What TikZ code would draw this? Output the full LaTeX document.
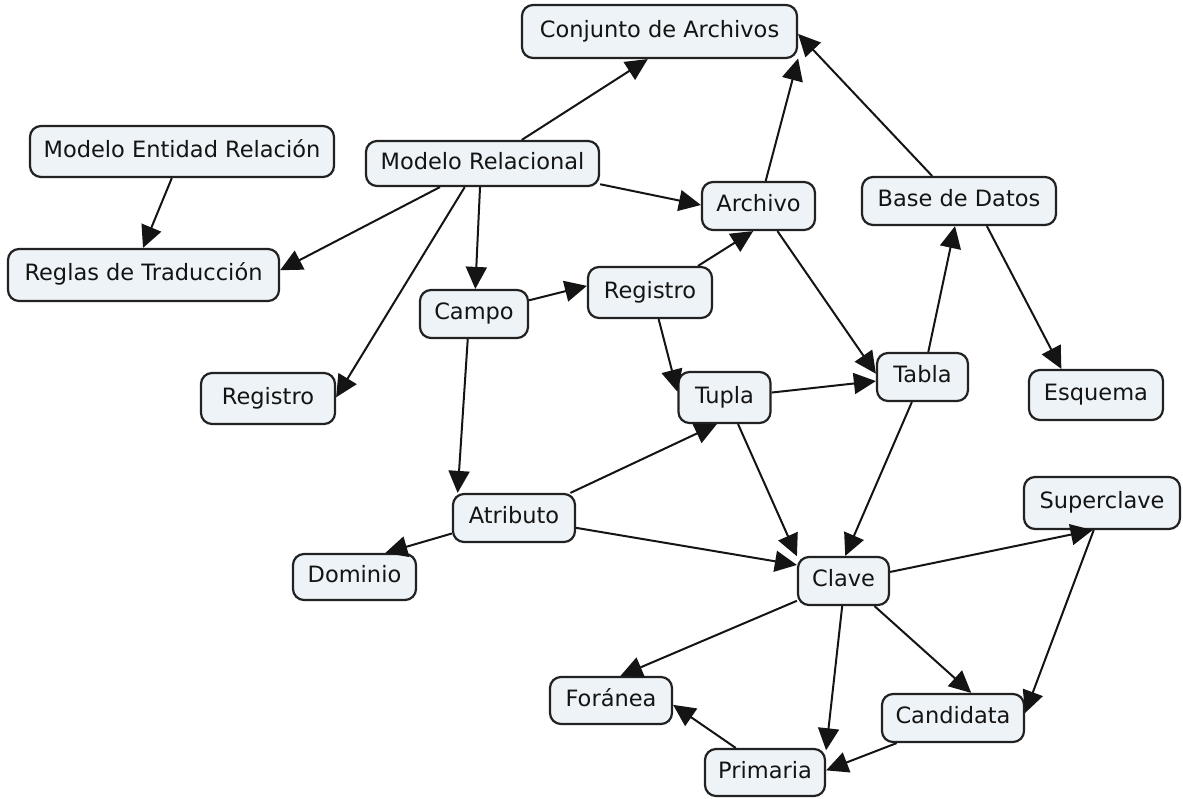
\documentclass[tikz,border=0pt]{standalone}
\usepackage{fontspec}
\setmainfont{DejaVu Sans}
\usetikzlibrary{arrows.meta}
\definecolor{boxfill}{RGB}{237,243,246}
\definecolor{boxline}{RGB}{34,34,34}
\tikzset{
  concept/.style={draw=boxline, line width=2.2pt, fill=boxfill, rounded corners=11pt,
    inner xsep=8pt, inner ysep=0pt, minimum height=48pt, text height=16pt, text depth=5pt,
    font=\fontsize{22.5}{26}\selectfont, text=black!92},
  link/.style={line width=2pt, draw=black!92, -{Triangle[length=22pt,width=21pt]}}
}
\begin{document}
\begin{tikzpicture}[x=1pt,y=-1pt]
\useasboundingbox (0,0) rectangle (1183,798);
\fill[white] (0,0) rectangle (1183,798);

% concepts
\node[concept, minimum width=275pt, minimum height=53pt] (CA)  at (659.5,31.5) {Conjunto de Archivos};
\node[concept, minimum width=304pt, minimum height=51pt] (MER) at (182,151.5)  {Modelo Entidad Relación};
\node[concept, minimum width=233pt, minimum height=45pt] (MR)  at (482.5,163.5) {Modelo Relacional};
\node[concept, minimum width=271pt, minimum height=52pt] (RT)  at (143.5,275)  {Reglas de Traducción};
\node[concept, minimum width=113pt] (AR)  at (758.5,206) {Archivo};
\node[concept, minimum width=194pt] (BD)  at (959,201)   {Base de Datos};
\node[concept, minimum width=108pt] (CP)  at (474,314)   {Campo};
\node[concept, minimum width=124pt, minimum height=51pt] (RM)  at (650,292.5) {Registro};
\node[concept, minimum width=134pt, minimum height=51pt] (RL)  at (268,398.5) {Registro};
\node[concept, minimum width=92pt, minimum height=51pt]  (TU)  at (724.5,397.5) {Tupla};
\node[concept, minimum width=91pt]  (TA)  at (922.5,377) {Tabla};
\node[concept, minimum width=134pt, minimum height=50pt] (ES)  at (1096,395)  {Esquema};
\node[concept, minimum width=122pt] (AT)  at (514,518)   {Atributo};
\node[concept, minimum width=156pt, minimum height=52pt] (SC)  at (1102,503)  {Superclave};
\node[concept, minimum width=123pt, minimum height=46pt] (DO)  at (354.5,577) {Dominio};
\node[concept, minimum width=91pt]  (CL)  at (843.5,581) {Clave};
\node[concept, minimum width=122pt, minimum height=47pt] (FO)  at (611,700.5) {Foránea};
\node[concept, minimum width=142pt] (CN)  at (953,718)   {Candidata};
\node[concept, minimum width=120pt, minimum height=47pt] (PR)  at (765,772.5) {Primaria};

% links
\draw[link] (MR.31)     -- (CA.-113.5);
\draw[link] (AR.74.8)   -- (CA.-11.2);
\draw[link] (BD.137.3)  -- (CA.-1.4);
\draw[link] (MER.-111.4) -- (RT.91);
\draw[link] (MR.-151.7) -- (RT.2.1);
\draw[link] (MR.-10)    -- (AR.179);
\draw[link] (MR.-96.3)  -- (CP.87.6);
\draw[link] (MR.-127.9) -- (RL.1.5);
\draw[link] (CP.14.5)   -- (RM.174.9);
\draw[link] (RM.29.5)   -- (AR.-102.4);
\draw[link] (RM.-72.6)  -- (TU.173);
\draw[link] (AR.-53.5)  -- (TA.176.2);
\draw[link] (TU.6.7)    -- (TA.-175);
\draw[link] (TA.77)     -- (BD.-99.5);
\draw[link] (BD.-42.7)  -- (ES.143.7);
\draw[link] (CP.-104)   -- (AT.156.8);
\draw[link] (AT.24)     -- (TU.-106.4);
\draw[link] (AT.-166.2) -- (DO.38.9);
\draw[link] (AT.-9.3)   -- (CL.161);
\draw[link] (TU.-63.9)  -- (CL.152.2);
\draw[link] (TA.-113.6) -- (CL.86.4);
\draw[link] (CL.11.2)   -- (SC.-109.1);
\draw[link] (SC.-107.1) -- (CN.4.7);
\draw[link] (CL.-157.3) -- (FO.69);
\draw[link] (CL.-93.6)  -- (PR.20.5);
\draw[link] (CL.-39.1)  -- (CN.54.7);
\draw[link] (CN.-156.8) -- (PR.2.2);
\draw[link] (PR.140)    -- (FO.-4.2);
\end{tikzpicture}
\end{document}
